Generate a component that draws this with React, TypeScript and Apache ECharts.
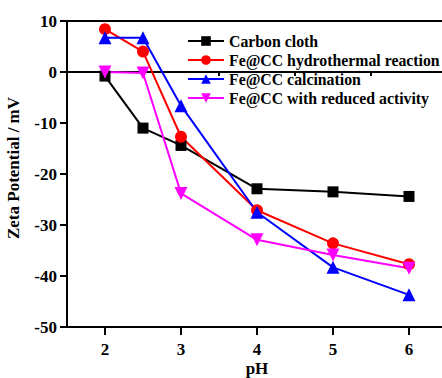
import React, { useEffect, useRef } from "react";
import * as echarts from "echarts";

const pH = [2, 2.5, 3, 4, 5, 6];
const carbonCloth = [-0.8, -11.0, -14.4, -22.9, -23.5, -24.4];
const hydrothermal = [8.4, 4.0, -12.7, -27.1, -33.6, -37.7];
const calcination = [6.7, 6.7, -6.6, -27.5, -38.3, -43.7];
const reducedActivity = [0, -0.2, -23.8, -32.9, -35.9, -38.5];
const seriesNames = [
  "Carbon cloth",
  "Fe@CC hydrothermal reaction",
  "Fe@CC calcination",
  "Fe@CC with reduced activity",
];
const xMajorTicks = [2, 3, 4, 5, 6];
const xMinorTicks = [1.5, 2.5, 3.5, 4.5, 5.5, 6.5];

const FONT = "'Liberation Serif', 'Times New Roman', serif";

export default function App() {
  const ref = useRef<HTMLDivElement>(null);
  useEffect(() => {
    if (!ref.current) return;
    const chart = echarts.init(ref.current, null, { renderer: "svg" });
    const pair = (vals: number[]) => pH.map((x, i) => [x, vals[i]]);
    const mk = (name: string, vals: number[], color: string, symbol: string, size: number, rotate = 0) => ({
      name,
      type: "line",
      data: pair(vals),
      symbol,
      symbolSize: size,
      symbolRotate: rotate,
      xAxisIndex: 0,
      lineStyle: { color, width: 2 },
      itemStyle: { color },
      emphasis: { disabled: true },
    });
    chart.setOption({
      animation: false,
      grid: {
        left: 67,
        top: 21,
        right: 0,
        bottom: 51,
        outerBoundsMode: "none",
        containLabel: false,
        show: true,
        borderColor: "#000",
        borderWidth: 2,
      },
      legend: {
        orient: "vertical",
        left: 182,
        top: 28,
        itemWidth: 36,
        itemHeight: 12,
        itemGap: 3,
        data: seriesNames,
        textStyle: {
          fontFamily: FONT,
          fontWeight: "bold",
          fontSize: 15.8,
          color: "#000",
          lineHeight: 16,
        },
      },
      xAxis: [
        {
          type: "value",
          min: 1.5,
          max: 6.5,
          interval: 0.5,
          position: "bottom",
          name: "pH",
          nameLocation: "middle",
          nameGap: 33,
          nameMoveOverlap: false,
          nameTextStyle: { fontFamily: FONT, fontWeight: "bold", fontSize: 17, color: "#000" },
          axisLine: { lineStyle: { color: "#000", width: 2 } },
          axisTick: { customValues: xMinorTicks, length: 4, lineStyle: { color: "#000", width: 2 } },
          axisLabel: {
            customValues: xMajorTicks,
            margin: 14,
            fontFamily: FONT,
            fontWeight: "bold",
            fontSize: 17,
            color: "#000",
          },
          splitLine: { show: false },
        },
        {
          type: "value",
          min: 1.5,
          max: 6.5,
          interval: 0.5,
          position: "bottom",
          axisLine: { show: false },
          axisTick: { customValues: xMajorTicks, length: 8, lineStyle: { color: "#000", width: 2 } },
          axisLabel: { show: false },
          splitLine: { show: false },
        },
      ],
      yAxis: {
        type: "value",
        min: -50,
        max: 10,
        interval: 10,
        name: "Zeta Potential / mV",
        nameLocation: "middle",
        nameGap: 45,
        nameMoveOverlap: false,
        nameTextStyle: {
          fontFamily: FONT,
          fontWeight: "bold",
          fontSize: 17,
          color: "#000",
          padding: [0, 0, 0, 12],
        },
        axisLine: { show: true, lineStyle: { color: "#000", width: 2 } },
        axisTick: { show: true, length: 7, lineStyle: { color: "#000", width: 2 } },
        axisLabel: {
          margin: 10,
          fontFamily: FONT,
          fontWeight: "bold",
          fontSize: 17,
          color: "#000",
        },
        splitLine: { show: false },
      },
      series: [
        mk(seriesNames[0], carbonCloth, "#000000", "rect", 11),
        mk(seriesNames[1], hydrothermal, "#ff0000", "circle", 12),
        mk(seriesNames[2], calcination, "#0000ff", "triangle", 13),
        mk(seriesNames[3], reducedActivity, "#ff00ff", "triangle", 13, 180),
      ],
    });
    return () => chart.dispose();
  }, []);
  return (
    <div
      ref={ref}
      style={{ position: "fixed", left: 0, top: 0, width: 447, height: 378, background: "#fff" }}
    />
  );
}
